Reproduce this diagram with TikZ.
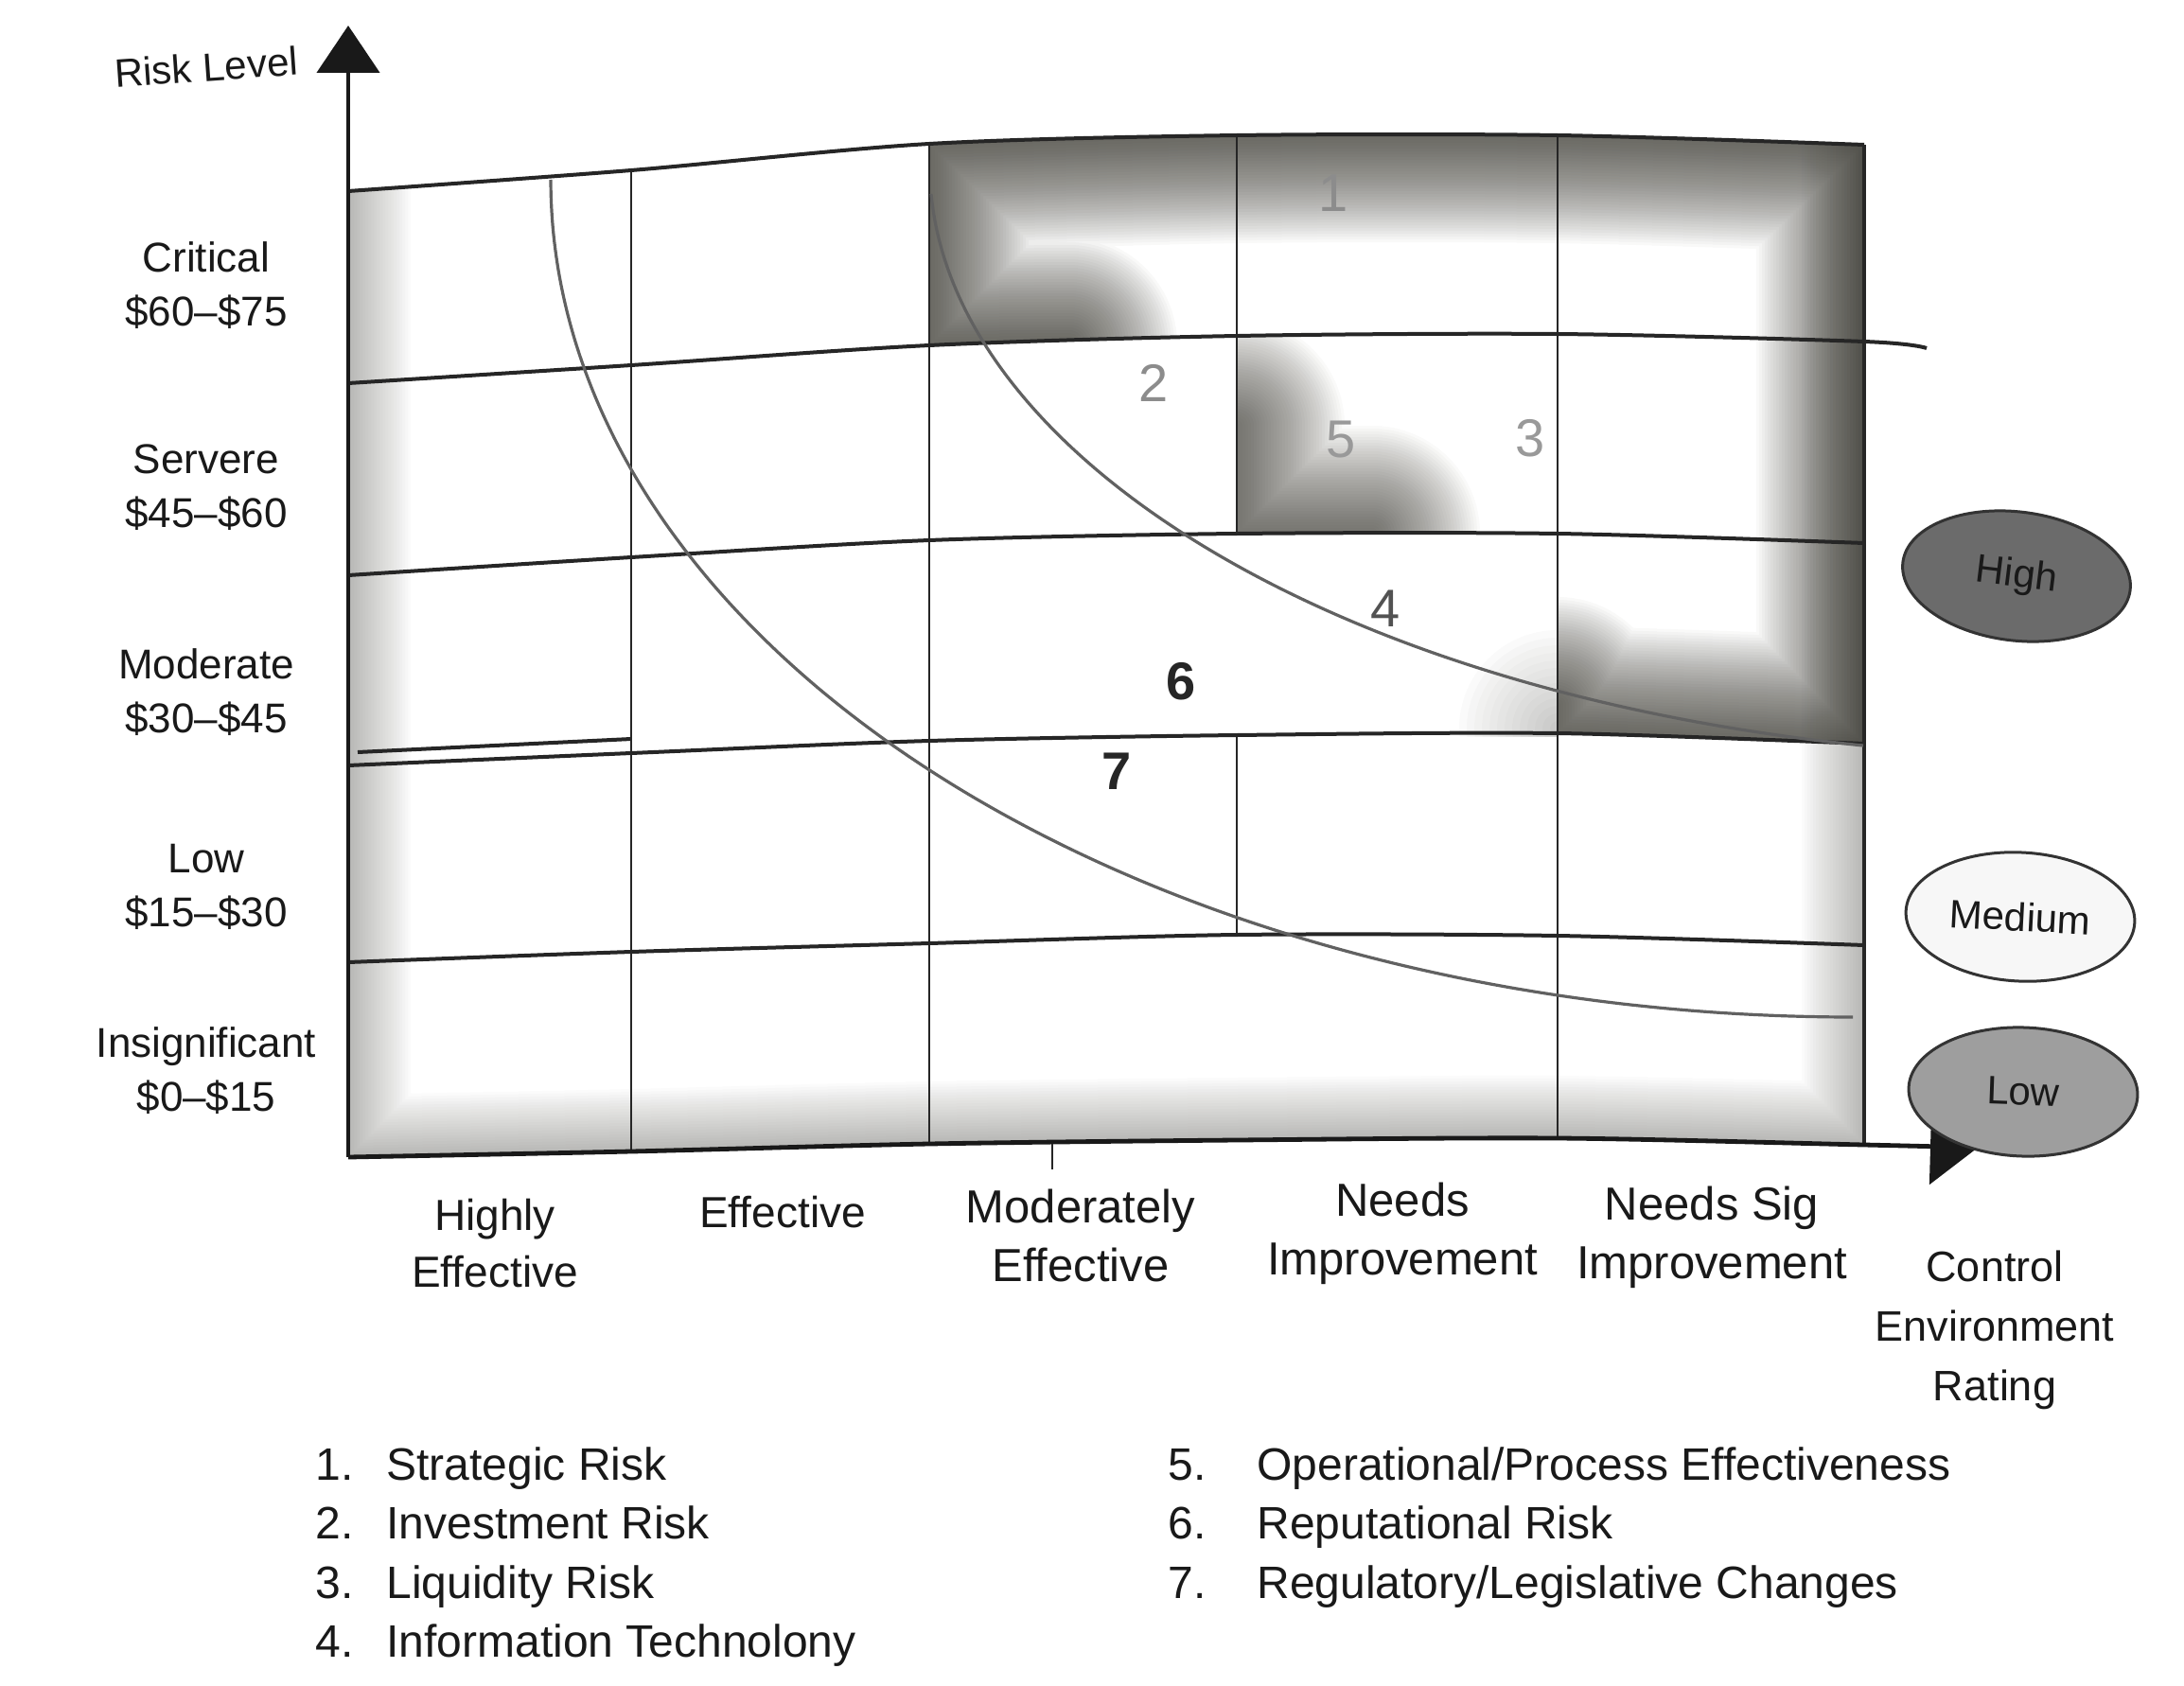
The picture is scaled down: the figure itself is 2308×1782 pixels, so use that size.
\documentclass[tikz,border=0pt]{standalone}
\usepackage{fontspec}
\setmainfont{Liberation Sans}
\usetikzlibrary{arrows.meta,shapes.geometric}
\definecolor{ink}{RGB}{45,44,36}
\begin{document}
\begin{tikzpicture}[x=0.5pt,y=-0.5pt,
  gridh/.style={line width=2pt, draw=black!85},
  gridv/.style={line width=1.3pt, draw=black!85},
  riskcurve/.style={line width=1.6pt, draw=black!62},
  axisline/.style={line width=2.4pt, draw=black!90},
  lvl/.style={font=\fontsize{22}{28.5}\selectfont, align=center, text=black!90},
  ctl/.style={font=\fontsize{24.5}{31}\selectfont, align=center, text=black!90},
  num/.style={font=\fontsize{28}{30}\selectfont},
  leg/.style={font=\fontsize{24}{28}\selectfont, anchor=base west, inner sep=0pt, text=black!90},
  rating/.style={ellipse, draw=black!80, line width=1.5pt, minimum width=121pt, minimum height=68pt, font=\fontsize{21}{24}\selectfont, inner sep=0pt, text=black!90},
  vig/.style={draw=ink, line join=round, line cap=round}
]
\useasboundingbox (0,0) rectangle (2308,1782);
\fill[white] (0,0) rectangle (2308,1782);

% ---------- light vignette along the left, bottom and right edges of the grid
\begin{scope}
\clip plot[smooth] coordinates {(368,202) (667,180) (982,152) (1307,143) (1646,143) (1970,153)} -- (1970,1210) -- plot[smooth] coordinates {(1970,1210) (1646,1203) (1307,1205) (982,1209) (667,1217) (368,1223)} -- cycle;
\foreach \w in {3,6,...,66} \draw[vig, line width=\w pt, opacity=0.016] (368,100) -- plot[smooth] coordinates {(368,1223) (667,1217) (982,1209) (1307,1205) (1646,1203) (1970,1210)} -- (1970,100);
\end{scope}

% ---------- dark vignette of the high-risk block
\def\hipath{plot[smooth] coordinates {(982,152) (1307,143) (1646,143) (1970,153)} -- (1970,786) -- (1646,775) -- (1646,564) -- (1307,564) -- (1307,355) -- (982,365) -- cycle}
\begin{scope}
\clip \hipath;
\foreach \w in {3,6,...,114} {
  \draw[vig, line width=\w pt, opacity=0.027] (1130,364) -- (982,365) -- plot[smooth] coordinates {(982,152) (1307,143) (1646,143) (1970,153)} -- (1970,786) -- (1646,775) -- (1646,745);
}
\end{scope}
\begin{scope}
\clip (1307,355) rectangle (1646,564);
\foreach \w in {3,6,...,114} {
  \draw[vig, line width=\w pt, opacity=0.023] (1307,450) -- (1307,564) -- (1450,564);
}
\end{scope}
% soft shade left of the Needs-Sig column in the moderate row
\begin{scope}
\clip (1307,564) rectangle (1646,778);
\foreach \r in {8,16,...,110} \fill[ink, opacity=0.02] (1646,770) circle[radius=\r];
\end{scope}

% ---------- grid
\draw[gridh] plot[smooth] coordinates {(368,202) (667,180) (982,152) (1307,143) (1646,143) (1970,153)};
\draw[gridh] plot[smooth] coordinates {(368,405) (667,386) (982,365) (1307,355) (1646,353) (1970,361) (2036,368)};
\draw[gridh] plot[smooth] coordinates {(368,608) (667,589) (982,571) (1307,564) (1646,564) (1970,574)};
\draw[gridh] plot[smooth] coordinates {(368,809) (667,796) (982,783) (1307,777) (1646,775) (1970,786)};
\draw[gridh] (378,795) -- (667,781);
\draw[gridh] plot[smooth] coordinates {(368,1017) (667,1006) (982,997) (1307,988) (1646,989) (1970,999)};
\draw[gridv] (667,180) -- (667,1217);
\draw[gridv] (982,152) -- (982,1209);
\draw[gridv] (1307,143) -- (1307,564);
\draw[gridv] (1307,777) -- (1307,988);
\draw[gridv] (1646,143) -- (1646,1203);
\draw[gridh] (1970,153) -- (1970,1210);

% ---------- risk curves
\draw[riskcurve] plot[domain=180:90, samples=90, smooth] ({1958+1376*cos(\x)},{190+885*sin(\x)});
\draw[riskcurve] (984,205) .. controls (1010,480) and (1400,730) .. (1969,788);

% ---------- axes
\coordinate (O) at (368,1223);
\coordinate (ytip) at (368,27);
\coordinate (xtip) at (2090,1213);
\draw[axisline, -{Triangle[width=33pt,length=25pt]}] (O) -- (ytip);
\draw[axisline, -{Triangle[width=40pt,length=25pt]}] plot[smooth] coordinates {(O) (667,1217) (982,1209) (1307,1205) (1646,1203) (1970,1210) (xtip)};
\draw[gridv] (1112,1209) -- (1112,1236);

% ---------- numbers in grid
\node[num, text=black!45] (n1) at (1409,204) {1};
\node[num, text=black!45] (n2) at (1219,405) {2};
\node[num, text=black!40] (n5) at (1417,465) {5};
\node[num, text=black!40] (n3) at (1617,463) {3};
\node[num, text=black!68] (n4) at (1464,643) {4};
\node[num, font=\fontsize{28}{30}\selectfont\bfseries, text=black!85] (n6) at (1248,720) {6};
\node[num, font=\fontsize{28}{30}\selectfont\bfseries, text=black!85] (n7) at (1180,815) {7};

% ---------- axis labels
\node[font=\fontsize{21}{24}\selectfont, rotate=4, text=black!90] (rl) at (218,71) {Risk Level};
\node[lvl] (crit) at (218,302) {Critical\\\$60–\$75};
\node[lvl] (sev) at (218,515) {Servere\\\$45–\$60};
\node[lvl] (mod) at (218,732) {Moderate\\\$30–\$45};
\node[lvl] (lowl) at (218,937) {Low\\\$15–\$30};
\node[lvl] (ins) at (218,1132) {Insignificant\\\$0–\$15};

\node[ctl, font=\fontsize{23}{30}\selectfont] (he) at (523,1314) {Highly\\Effective};
\node[ctl, font=\fontsize{23}{30}\selectfont] (ef) at (827,1281) {Effective};
\node[ctl] (me) at (1142,1306) {Moderately\\Effective};
\node[ctl] (ni) at (1482,1304) {Needs\\Improvement};
\node[ctl] (ns) at (1809,1308) {Needs Sig\\Improvement};
\node[ctl, font=\fontsize{22.5}{31.5}\selectfont] (cer) at (2108,1406) {Control\\Environment\\Rating};

% ---------- rating ellipses
\node[rating, fill=black!58, rotate=-7] (high) at (2131,609) {High};
\node[rating, fill=black!3, rotate=-3] (med) at (2135,969) {Medium};
\node[rating, fill=black!38, rotate=-2] (low) at (2138,1154) {Low};

% ---------- legend
\node[leg] (l1n) at (333,1564) {1.};
\node[leg] (l1) at (408,1564) {Strategic Risk};
\node[leg] (l2n) at (333,1626) {2.};
\node[leg] (l2) at (408,1626) {Investment Risk};
\node[leg] (l3n) at (333,1689) {3.};
\node[leg] (l3) at (408,1689) {Liquidity Risk};
\node[leg] (l4n) at (333,1751) {4.};
\node[leg] (l4) at (408,1751) {Information Technolony};
\node[leg] (l5n) at (1234,1564) {5.};
\node[leg] (l5) at (1328,1564) {Operational/Process Effectiveness};
\node[leg] (l6n) at (1234,1626) {6.};
\node[leg] (l6) at (1328,1626) {Reputational Risk};
\node[leg] (l7n) at (1234,1689) {7.};
\node[leg] (l7) at (1328,1689) {Regulatory/Legislative Changes};
\end{tikzpicture}
\end{document}
